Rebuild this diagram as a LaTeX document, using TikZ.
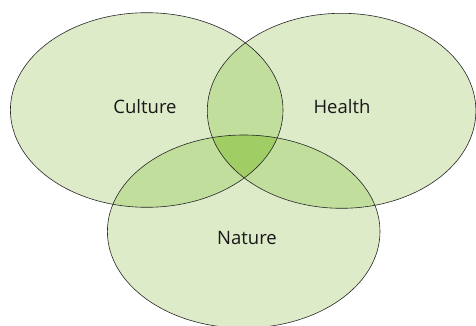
\documentclass[tikz,border=0pt]{standalone}
\usepackage{fontspec}
\setmainfont{Open Sans}
\definecolor{one}{RGB}{222,235,201}
\definecolor{two}{RGB}{193,222,157}
\definecolor{three}{RGB}{160,205,100}
\definecolor{txt}{RGB}{25,25,25}
\begin{document}
\begin{tikzpicture}[x=1pt,y=-1pt,
  lbl/.style={font=\fontsize{18.5}{22}\selectfont, text=txt},
  edge/.style={draw=black!85, line width=0.6pt}]
\useasboundingbox (0,0) rectangle (476,326);
\def\cul{(146.7,110) ellipse [x radius=136.3, y radius=97.3]}
\def\hea{(341.6,110.8) ellipse [x radius=134.3, y radius=97.5]}
\def\nat{(243.7,231.5) ellipse [x radius=136.3, y radius=96.5]}
\fill[one] \cul;
\fill[one] \hea;
\fill[one] \nat;
\begin{scope}\clip \cul; \fill[two] \hea; \fill[two] \nat; \end{scope}
\begin{scope}\clip \hea; \fill[two] \nat; \end{scope}
\begin{scope}\clip \cul; \clip \hea; \fill[three] \nat; \end{scope}
\draw[edge] \cul;
\draw[edge] \hea;
\draw[edge] \nat;
\node[lbl] (c) at (145,107) {Culture};
\node[lbl] (h) at (342,107) {Health};
\node[lbl] (n) at (247,238) {Nature};
\end{tikzpicture}
\end{document}
